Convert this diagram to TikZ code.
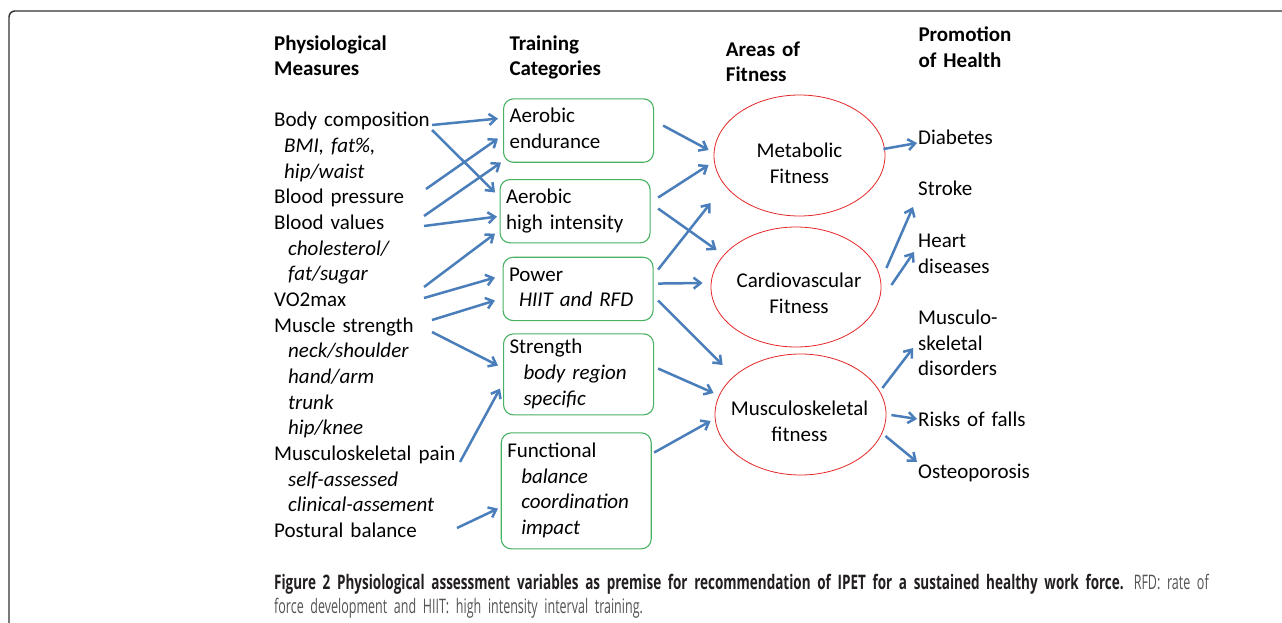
\documentclass[tikz,border=0pt]{standalone}
\usepackage{fontspec}
\setmainfont{Carlito}
\newfontfamily\capfont[FakeStretch=0.625,BoldFeatures={FakeStretch=0.675}]{Open Sans}
\usetikzlibrary{shapes.geometric,arrows.meta}

\definecolor{catgreen}{RGB}{72,178,98}
\definecolor{fitred}{RGB}{228,40,40}
\definecolor{linkblue}{RGB}{74,126,187}
\definecolor{framegray}{RGB}{50,50,50}
\definecolor{captext}{RGB}{35,31,32}
\definecolor{capgray}{RGB}{85,85,85}

\newcommand\diagfont{\fontsize{21pt}{25.65pt}\selectfont}
\newcommand\capsize{\fontsize{20pt}{24.5pt}\selectfont}

\tikzset{
  txt/.style={anchor=north west, align=left, text width=220pt, inner sep=0pt,
    font=\diagfont, execute at begin node=\strut, execute at end node=\strut},
  hdr/.style={txt, font=\diagfont\bfseries},
  catbox/.style={draw=catgreen, line width=1.1pt, rounded corners=10pt,
    anchor=north west, align=left, text width=138pt, inner xsep=6pt,
    inner ysep=0pt, font=\diagfont,
    execute at begin node=\strut, execute at end node=\strut},
  fitness/.style={ellipse, draw=fitred, line width=0.8pt, minimum width=171pt,
    minimum height=121pt, inner sep=0pt},
  fittxt/.style={txt, anchor=center, align=center, text width=170pt},
  link/.style={draw=linkblue, line width=2.5pt,
    -{Straight Barb[length=7pt,width=11pt]}},
}

\begin{document}
\begin{tikzpicture}[x=1pt,y=-1pt]
    \useasboundingbox (0,0) rectangle (1282,622);
    \fill[white] (0,0) rectangle (1282,622);
    % frame round the figure
    \draw[framegray, line width=1.4pt, rounded corners=6pt] (9,660) |- (1320,11);

    % column heads
    \node[hdr] (hmeas) at (274,32.1) {Physiological\\Measures};
    \node[hdr] (htrain) at (509.3,32.1) {Training\\Categories};
    \node[hdr] (harea) at (725.7,38.1) {Areas of\\Fitness};
    \node[hdr] (hpromo) at (918.3,23.8) {Promotion\\of Health};

    % physiological measures
    \node[txt] (bodycomp) at (274,108.8) {Body composition\\\hspace*{10pt}\textit{BMI, fat\%,}\\\hspace*{10pt}\textit{hip/waist}};
    \node[txt] (bp) at (274,185.8) {Blood pressure};
    \node[txt] (bv) at (274,211.4) {Blood values\\\hspace*{14pt}\textit{cholesterol/}\\\hspace*{14pt}\textit{fat/sugar}};
    \node[txt] (vo2) at (274,288.4) {VO2max};
    \node[txt] (ms) at (274,314.1) {Muscle strength\\\hspace*{14pt}\textit{neck/shoulder}\\\hspace*{14pt}\textit{hand/arm}\\\hspace*{14pt}\textit{trunk}\\\hspace*{14pt}\textit{hip/knee}};
    \node[txt] (mpain) at (274,442.4) {Musculoskeletal pain\\\hspace*{14pt}\textit{self-assessed}\\\hspace*{14pt}\textit{clinical-assement}};
    \node[txt] (posture) at (274,519.4) {Postural balance};

    % training categories
    \node[catbox, minimum height=63.4pt] (aeroend) at (503,98.3) {Aerobic\\endurance};
    \node[catbox, minimum height=63.3pt] (aerohigh) at (499.5,179) {Aerobic\\high intensity};
    \node[catbox, minimum height=63.3pt] (power) at (502.5,256.7) {Power\\\hspace*{10pt}\textit{HIIT and RFD}};
    \node[catbox, minimum height=81pt] (strength) at (503,333.3) {Strength\\\hspace*{14pt}\textit{body region}\\\hspace*{14pt}\textit{specific}};
    \node[catbox, minimum height=116pt] (functional) at (500.7,432.3) {Functional\\\hspace*{14pt}\textit{balance}\\\hspace*{14pt}\textit{coordination}\\\hspace*{14pt}\textit{impact}};

    % areas of fitness
    \node[fitness] (metab) at (799.5,155.5) {};
    \node[fitness, minimum width=170pt, minimum height=120pt] (cardio) at (796,287) {};
    \node[fitness] (musc) at (800.5,414.5) {};
    \node[fittxt] (metabtxt) at ([shift={(0,10)}]metab.center) {Metabolic\\Fitness};
    \node[fittxt] (cardiotxt) at ([shift={(3,8.5)}]cardio.center) {Cardiovascular\\Fitness};
    \node[fittxt] (musctxt) at ([shift={(-1,9)}]musc.center) {Musculoskeletal\\fitness};

    % promotion of health
    \node[txt] (diabetes) at (918,126.6) {Diabetes};
    \node[txt] (stroke) at (918,177.8) {Stroke};
    \node[txt] (heart) at (918,229.4) {Heart\\diseases};
    \node[txt] (msd) at (918,306.5) {Musculo-\\skeletal\\disorders};
    \node[txt] (falls) at (918,408.8) {Risks of falls};
    \node[txt] (osteo) at (918,460.4) {Osteoporosis};

    % measures -> categories
    \def\measlinks{bodycomp.north west/{158,16.2}/aeroend.west/{-5,-12},
        bodycomp.north west/{158,21.2}/aerohigh.west/{-4.5,-18.7},
        bp.north west/{152,3.2}/aeroend.west/{-5,8},
        bv.north west/{150,4.6}/aeroend.west/{-2,32},
        bv.north west/{150,14.6}/aerohigh.west/{-2.5,5.4},
        vo2.north west/{150,-1.4}/aerohigh.west/{-4.5,22.4},
        vo2.north west/{150,9.6}/power.west/{-7.5,-11.35},
        ms.north west/{158,5.9}/power.west/{-7.5,11.65},
        ms.north west/{158,17.9}/strength.west/{-5,-8.8},
        mpain.north west/{186,19.6}/strength.west/{-3,14.2},
        posture.north west/{183,8.6}/functional.west/{-2.7,17.7}}
    \foreach \a/\p/\b/\q in \measlinks {
        \draw[link] ([shift={(\p)}]\a) -- ([shift={(\q)}]\b);
    }

    % categories -> fitness
    \def\catlinks{aeroend.east/{9,-5}/metab.west/{-5,-5.5},
        aerohigh.east/{7.5,-13.65}/metab.west/{-5,9.5},
        aerohigh.east/{7.5,-2.65}/cardio.west/{6,-37},
        power.east/{4.5,-19.35}/metab.west/{-3,47.5},
        power.east/{4.5,-5.35}/cardio.west/{-8,-4},
        power.east/{4.5,11.65}/musc.west/{8,-49.5},
        strength.east/{4,-5.8}/musc.west/{-1,-21.5},
        functional.east/{2.3,-38.3}/musc.west/{-4,6.5}}
    \foreach \a/\p/\b/\q in \catlinks {
        \draw[link] ([shift={(\p)}]\a) -- ([shift={(\q)}]\b);
    }

    % fitness -> health
    \def\healthlinks{metab.east/{-2,-6.5}/diabetes.north west/{-1,16.4},
        cardio.east/{5,-19}/stroke.north west/{-5,29.2},
        cardio.east/{10,-2}/heart.north west/{-4,22.6},
        musc.east/{-4,-26.5}/msd.north west/{-5,41.5},
        musc.east/{5,0.5}/falls.north west/{-1,10.2},
        musc.east/{-1,21.5}/osteo.north west/{-1,1.6}}
    \foreach \a/\p/\b/\q in \healthlinks {
        \draw[link] ([shift={(\p)}]\a) -- ([shift={(\q)}]\b);
    }

    % caption
    \node[anchor=north west, align=left, text width=1000pt, inner sep=0pt,
        font=\capfont\capsize, text=captext, execute at begin node=\strut]
        (caption) at (274,571.9)
        {\textbf{Figure 2 Physiological assessment variables as premise for recommendation of IPET for a sustained healthy work force.} {\color{capgray}RFD: rate of}\\{\color{capgray}force development and HIIT: high intensity interval training.}};
\end{tikzpicture}
\end{document}
